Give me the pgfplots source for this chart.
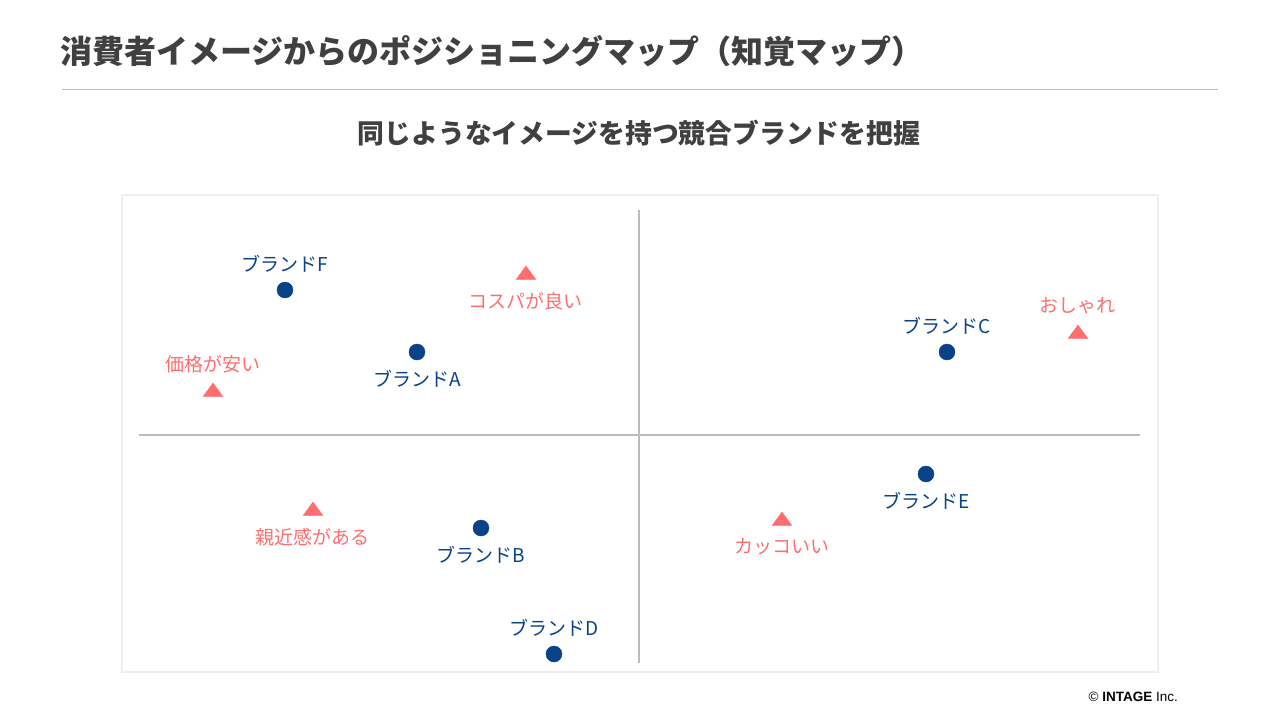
\documentclass[border=0pt]{standalone}
\usepackage{pgfplots}
\pgfplotsset{compat=1.18}
\usepackage{pgfplotstable}
\usepackage{fontspec}
\setmainfont{Noto Sans CJK JP}
\newfontfamily\latinfont{Liberation Sans}
\definecolor{titlegray}{HTML}{404040}
\definecolor{brandblue}{HTML}{0A4288}
\definecolor{imgred}{HTML}{FF6E6E}
\definecolor{boxgray}{HTML}{EEEEEE}
\definecolor{axgray}{HTML}{BBBBBB}

\pgfplotstableread{
x y label
-7.08 2.90 {ブランドF}
6.16 1.66 {ブランドC}
-1.70 -4.38 {ブランドD}
}\brandAbove
\pgfplotstableread{
x y label
-4.44 1.66 {ブランドA}
5.74 -0.78 {ブランドE}
-3.16 -1.86 {ブランドB}
}\brandBelow
\pgfplotstableread{
x y label
-8.52 0.86 {価格が安い}
8.78 2.02 {おしゃれ}
}\imgAbove
\pgfplotstableread{
x y label
-2.26 3.20 {コスパが良い}
-6.52 -1.52 {親近感がある}
2.86 -1.72 {カッコいい}
}\imgBelow

\begin{document}
\begin{tikzpicture}
\path[use as bounding box] (0,0) rectangle (1280pt,-720pt);
% title
\node[anchor=west, inner sep=0pt, text=titlegray, font=\fontsize{32}{37}\selectfont\bfseries] at (60pt,-51pt) {消費者イメージからのポジショニングマップ（知覚マップ）};
\draw[axgray, line width=1pt] (62pt,-89.5pt) -- (1218pt,-89.5pt);
\node[inner sep=0pt, text=titlegray, font=\fontsize{26.8}{32}\selectfont\bfseries] at (639pt,-133pt) {同じようなイメージを持つ競合ブランドを把握};
\node[anchor=east, inner sep=0pt, font=\fontsize{13.5}{15}\selectfont\latinfont] at (1178pt,-697pt) {© \textbf{INTAGE} Inc.};
\begin{axis}[
  at={(122pt,-672pt)}, anchor=south west,
  scale only axis, width=1036pt, height=477pt,
  xmin=-10.34, xmax=10.38, ymin=-4.74, ymax=4.8,
  xtick=\empty, ytick=\empty,
  axis line style={draw=boxgray, line width=1.5pt},
  clip=false,
  point meta=explicit symbolic,
]
\draw[axgray, line width=1.5pt] (axis cs:-10,0) -- (axis cs:10.02,0);
\draw[axgray, line width=1.5pt] (axis cs:0,4.5) -- (axis cs:0,-4.56);
\addplot[only marks, mark=*, mark size=8pt, color=brandblue,
  nodes near coords,
  nodes near coords style={anchor=center, yshift=26pt, text=brandblue, font=\fontsize{19}{22}\selectfont}]
  table[x=x, y=y, meta=label]{\brandAbove};
\addplot[only marks, mark=*, mark size=8pt, color=brandblue,
  nodes near coords,
  nodes near coords style={anchor=center, yshift=-27pt, text=brandblue, font=\fontsize{19}{22}\selectfont}]
  table[x=x, y=y, meta=label]{\brandBelow};
\addplot[only marks, mark=triangle*, mark size=9.5pt, color=imgred,
  mark options={xscale=1.2, yscale=0.95},
  nodes near coords,
  nodes near coords style={anchor=center, yshift=28pt, text=imgred, font=\fontsize{19}{22}\selectfont}]
  table[x=x, y=y, meta=label]{\imgAbove};
\addplot[only marks, mark=triangle*, mark size=9.5pt, color=imgred,
  mark options={xscale=1.2, yscale=0.95},
  nodes near coords,
  nodes near coords style={anchor=center, yshift=-26pt, text=imgred, font=\fontsize{19}{22}\selectfont}]
  table[x=x, y=y, meta=label]{\imgBelow};
\end{axis}
\end{tikzpicture}
\end{document}
